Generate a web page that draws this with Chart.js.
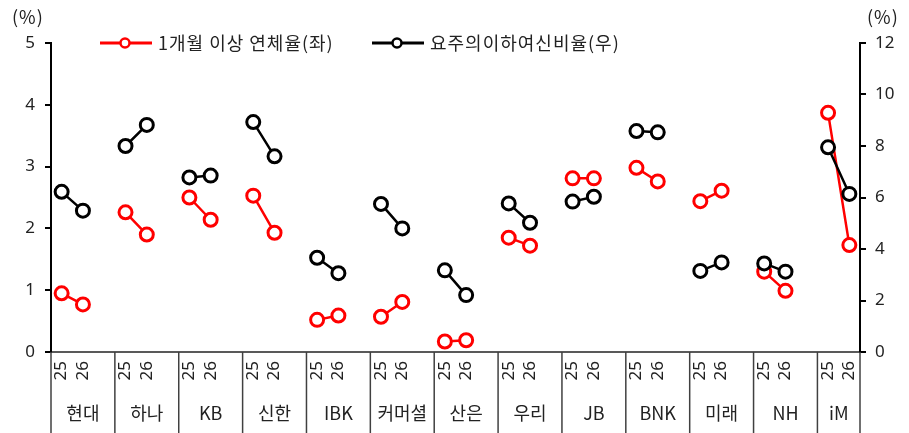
<!DOCTYPE html>
<html>
<head>
<meta charset="utf-8">
<script src="https://cdn.jsdelivr.net/npm/chart.js@4.4.1/dist/chart.umd.min.js"></script>
<style>
  html, body { margin: 0; padding: 0; background: #fff; }
  canvas { display: block; }
</style>
</head>
<body>
<canvas id="chart" width="909" height="433"></canvas>
<script>
// 은행별 25년/26년 값
var banks = ['현대', '하나', 'KB', '신한', 'IBK', '커머셜', '산은', '우리', 'JB', 'BNK', '미래', 'NH', 'iM'];
var years = ['25', '26'];
var delinq25 = [0.95, 2.26, 2.50, 2.53, 0.52, 0.57, 0.17, 1.85, 2.81, 2.98, 2.44, 1.30, 3.87];
var delinq26 = [0.77, 1.90, 2.14, 1.93, 0.59, 0.81, 0.19, 1.72, 2.81, 2.76, 2.61, 0.99, 1.73];
var watch25 = [6.22, 8.00, 6.78, 8.93, 3.66, 5.75, 3.17, 5.77, 5.84, 8.58, 3.15, 3.44, 7.95];
var watch26 = [5.49, 8.82, 6.85, 7.60, 3.06, 4.80, 2.21, 5.02, 6.03, 8.53, 3.48, 3.12, 6.14];
var leftTicks = [0, 1, 2, 3, 4, 5];
var rightTicks = [0, 2, 4, 6, 8, 10, 12];

var FONT = "'Noto Sans', 'Noto Sans CJK KR', sans-serif";
var KFONT = "'Noto Sans CJK KR', 'Noto Sans', sans-serif";

// 카테고리: 은행마다 25, 26, 빈칸 (마지막 은행은 빈칸 없음)
var labels = [], delinqData = [], watchData = [];
banks.forEach(function(b, i) {
    labels.push(years[0], years[1]);
    delinqData.push(delinq25[i], delinq26[i]);
    watchData.push(watch25[i], watch26[i]);
    if (i < banks.length - 1) {
        labels.push('');
        delinqData.push(null);
        watchData.push(null);
    }
});

var overlay = {
    id: 'overlay',
    afterDraw: function(chart) {
        var c = chart.ctx, x = chart.scales.x, area = chart.chartArea;
        var slot = x.getPixelForValue(1) - x.getPixelForValue(0);
        c.save();

        // 은행 구분선 + 은행 이름
        c.strokeStyle = '#404040';
        c.lineWidth = 1.5;
        c.fillStyle = '#222';
        c.font = '18px ' + KFONT;
        c.textAlign = 'center';
        c.textBaseline = 'middle';
        banks.forEach(function(b, i) {
            var left = x.getPixelForValue(i * 3) - slot / 2;
            var right = i === banks.length - 1 ? area.right : x.getPixelForValue(i * 3 + 2) + slot / 2;
            c.beginPath();
            c.moveTo(left, area.bottom);
            c.lineTo(left, chart.height);
            c.stroke();
            c.fillText(b, (left + right) / 2, 413);
        });
        c.beginPath();
        c.moveTo(area.right, area.bottom);
        c.lineTo(area.right, chart.height);
        c.stroke();

        // 단위
        c.font = '18px ' + KFONT;
        c.letterSpacing = '1px';
        c.fillStyle = '#222';
        c.textAlign = 'left';
        c.fillText('(%)', 12, 17);
        c.fillText('(%)', 867, 17);

        // 범례
        var items = [
            { text: '1개월 이상 연체율(좌)', color: '#ff0000', x: 100 },
            { text: '요주의이하여신비율(우)', color: '#000000', x: 372 }
        ];
        items.forEach(function(it) {
            var y = 43;
            c.strokeStyle = it.color;
            c.lineWidth = 3;
            c.beginPath();
            c.moveTo(it.x, y);
            c.lineTo(it.x + 52, y);
            c.stroke();
            c.beginPath();
            c.arc(it.x + 25, y, 4.5, 0, Math.PI * 2);
            c.fillStyle = '#fff';
            c.fill();
            c.lineWidth = 2.5;
            c.stroke();
            c.fillStyle = '#222';
            c.font = '18px ' + KFONT;
            c.letterSpacing = '1px';
            c.textAlign = 'left';
            c.fillText(it.text, it.x + 58, y);
        });
        c.restore();
    }
};

new Chart(document.getElementById('chart').getContext('2d'), {
    type: 'line',
    data: {
        labels: labels,
        datasets: [
            {
                label: '요주의이하여신비율(우)',
                data: watchData,
                yAxisID: 'y2',
                borderColor: '#000',
                backgroundColor: '#fff',
                pointBackgroundColor: '#fff',
                pointBorderColor: '#000',
                pointRadius: 6.5,
                pointBorderWidth: 3,
                borderWidth: 2.5,
                spanGaps: false,
                order: 0
            },
            {
                label: '1개월 이상 연체율(좌)',
                data: delinqData,
                yAxisID: 'y',
                borderColor: '#ff0000',
                backgroundColor: '#fff',
                pointBackgroundColor: '#fff',
                pointBorderColor: '#ff0000',
                pointRadius: 6.5,
                pointBorderWidth: 3,
                borderWidth: 2.5,
                spanGaps: false,
                order: 1
            }
        ]
    },
    options: {
        responsive: false,
        animation: false,
        events: [],
        layout: { padding: { top: 43, left: 0, right: 0, bottom: 0 } },
        plugins: {
            legend: { display: false },
            tooltip: { enabled: false }
        },
        scales: {
            x: {
                type: 'category',
                offset: true,
                grid: { display: false, drawTicks: false },
                border: { display: true, color: '#595959', width: 2 },
                ticks: {
                    autoSkip: false,
                    minRotation: 90,
                    maxRotation: 90,
                    padding: 9,
                    color: '#222',
                    font: { family: FONT, size: 17 }
                },
                afterFit: function(s) { s.height = 81; }
            },
            y: {
                position: 'left',
                min: 0,
                max: 5,
                afterBuildTicks: function(s) { s.ticks = leftTicks.map(function(v) { return { value: v }; }); },
                grid: { drawOnChartArea: false, drawTicks: true, tickLength: 6, color: '#000', lineWidth: 2 },
                border: { display: true, color: '#000', width: 2 },
                ticks: { padding: 10, color: '#222', font: { family: FONT, size: 17 } },
                afterFit: function(s) { s.width = 51; }
            },
            y2: {
                position: 'right',
                min: 0,
                max: 12,
                afterBuildTicks: function(s) { s.ticks = rightTicks.map(function(v) { return { value: v }; }); },
                grid: { drawOnChartArea: false, drawTicks: true, tickLength: 6, color: '#000', lineWidth: 2 },
                border: { display: true, color: '#000', width: 2 },
                ticks: { padding: 9, color: '#222', font: { family: FONT, size: 17 } },
                afterFit: function(s) { s.width = 49; }
            }
        }
    },
    plugins: [overlay]
});
</script>
</body>
</html>
